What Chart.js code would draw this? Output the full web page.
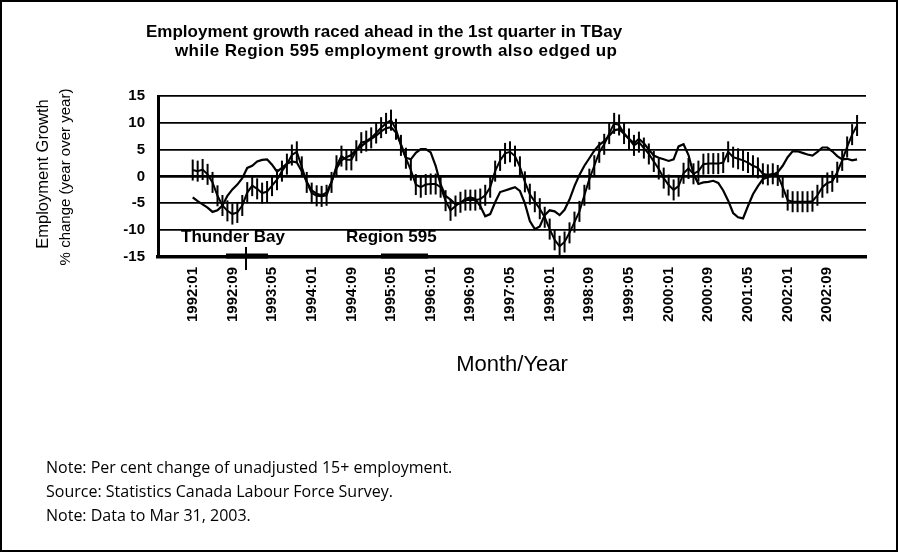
<!DOCTYPE html>
<html>
<head>
<meta charset="utf-8">
<title>Employment growth</title>
<script src="https://cdn.jsdelivr.net/npm/chart.js@4.4.1/dist/chart.umd.min.js"></script>
<style>
  html, body { margin: 0; padding: 0; background: #fff; }
  #painel { position: relative; width: 898px; height: 552px; overflow: hidden; font-family: "Liberation Sans", Arial, sans-serif; color: #000; }
  #moldura { position: absolute; left: 0; top: 0; width: 898px; height: 552px; box-sizing: border-box; border: 2px solid #000; pointer-events: none; }
  #grafico { position: absolute; left: 0; top: 0; }
  .titulo { position: absolute; font-weight: bold; font-size: 17px; line-height: 19px; white-space: nowrap; }
  .rotulo { position: absolute; white-space: nowrap; transform: translate(-50%, -50%) rotate(-90deg); }
  .nota { position: absolute; left: 46px; font-family: "Open Sans", sans-serif; font-size: 16px; line-height: 22px; white-space: nowrap; }
</style>
</head>
<body>
<div id="painel">
  <canvas id="grafico" width="898" height="552"></canvas>
  <div class="titulo" style="left:146px;top:22px">Employment growth raced ahead in the 1st quarter in TBay</div>
  <div class="titulo" style="left:175px;top:41px;letter-spacing:0.4px">while Region 595 employment growth also edged up</div>
  <div class="rotulo" style="left:42px;top:174px;font-size:16.5px">Employment Growth</div>
  <div class="rotulo" style="left:64px;top:177px;font-size:15px">% change (year over year)</div>
  <div class="rotulo" style="left:512px;top:364px;font-size:22px;transform:translate(-50%,-50%)">Month/Year</div>
  <div class="nota" style="top:456px">Note: Per cent change of unadjusted 15+ employment.</div>
  <div class="nota" style="top:480px">Source: Statistics Canada Labour Force Survey.</div>
  <div class="nota" style="top:504px">Note: Data to Mar 31, 2003.</div>
  <div id="moldura"></div>
</div>
<script>
// eixo x: meses a partir de 1992:01, um rótulo a cada 8 meses
const passoRotulo = 8;
const rotulosMeses = [
  "1992:01", "1992:09", "1993:05", "1994:01", "1994:09", "1995:05",
  "1996:01", "1996:09", "1997:05", "1998:01", "1998:09", "1999:05",
  "2000:01", "2000:09", "2001:05", "2002:01", "2002:09"
];

// variação % anual do emprego, 1992:01 a 2003:03
const thunderBay = [
  1.2, 1.0, 1.3, 0.4, -1.1, -3.6, -5.4, -6.4, -7.0, -6.7,
  -5.4, -3.0, -1.7, -2.3, -3.1, -2.8, -1.7, -0.6, 1.0, 2.3,
  4.0, 4.6, 1.8, -1.1, -3.1, -3.6, -3.7, -3.5, -1.1, 2.0,
  3.8, 3.1, 3.1, 4.8, 6.3, 6.6, 7.2, 8.1, 9.1, 9.9,
  10.5, 8.8, 5.8, 3.4, 1.2, -1.5, -2.0, -1.5, -1.4, -1.4,
  -2.0, -4.5, -6.3, -5.5, -4.8, -4.4, -4.4, -4.4, -4.2, -3.5,
  -2.0, 1.0, 3.0, 4.3, 4.6, 3.8, 1.8, -1.0, -3.3, -4.7,
  -6.0, -7.6, -9.8, -11.8, -13.0, -12.2, -10.5, -8.5, -6.5, -3.5,
  -0.5, 2.0, 4.5, 6.0, 8.0, 9.9, 9.6, 8.0, 7.0, 5.8,
  6.4, 5.3, 4.2, 2.8, 1.4, -0.3, -1.6, -2.5, -1.8, 0.6,
  1.5, 0.5, 1.0, 2.3, 2.4, 2.4, 2.4, 2.6, 4.6, 3.6,
  3.3, 3.0, 2.6, 2.0, 1.6, 0.5, 0.3, 0.5, 0.2, -2.0,
  -4.4, -4.7, -4.7, -4.7, -4.7, -4.6, -3.5, -2.0, -1.2, -0.9,
  0.8, 3.0, 5.5, 7.8, 9.5
];

const regiao595 = [
  -3.9, -4.6, -5.2, -5.8, -6.6, -6.3, -5.4, -3.6, -2.4, -1.5,
  -0.3, 1.6, 2.0, 2.8, 3.1, 3.2, 2.2, 0.9, 1.6, 2.4,
  2.8, 2.6, 1.0, -1.0, -2.6, -3.2, -3.5, -3.0, -1.0, 1.5,
  3.0, 3.6, 4.0, 5.0, 5.6, 6.4, 7.0, 7.6, 8.4, 9.0,
  9.2, 8.2, 6.0, 3.5, 3.2, 4.4, 5.1, 5.1, 4.5, 2.0,
  -1.5, -3.6, -4.3, -5.2, -5.0, -4.2, -3.9, -4.2, -5.5, -7.4,
  -7.0, -4.8, -2.9, -2.6, -2.3, -2.0, -2.7, -5.0, -8.3, -9.8,
  -9.3, -7.2, -6.3, -6.5, -7.2, -6.2, -4.3, -1.8, 0.3, 2.0,
  3.4, 4.8, 5.9, 6.6, 7.6, 8.6, 8.8, 8.0, 7.0, 6.2,
  7.0, 6.2, 5.0, 3.9, 3.5, 3.2, 2.9, 3.2, 5.6, 6.0,
  4.0, 0.5, -1.4, -1.1, -1.0, -0.8, -1.2, -2.6, -4.5, -6.8,
  -7.6, -7.8, -5.5, -3.3, -1.8, -0.5, -0.1, 0.3, 0.8, 2.0,
  3.6, 4.7, 4.7, 4.4, 4.1, 3.9, 4.6, 5.4, 5.4, 4.7,
  3.8, 3.2, 3.3, 3.0, 3.2
];

function comoPontos(valores) {
  return valores.map((v, i) => ({ x: i, y: v }));
}

// legenda desenhada dentro da área do gráfico, sobre o eixo x
const legendaInterna = {
  id: "legendaInterna",
  afterDraw(chart) {
    const c = chart.ctx;
    const [tb, reg] = chart.data.datasets;
    c.save();
    c.fillStyle = "#000";
    c.strokeStyle = "#000";
    c.font = 'bold 17px "Liberation Sans", Arial, sans-serif';
    c.textBaseline = "middle";
    c.fillText(tb.label, 181, 237);
    c.fillText(reg.label, 346, 237);
    c.lineWidth = 5;
    c.beginPath(); c.moveTo(226, 256); c.lineTo(268, 256); c.stroke();
    c.beginPath(); c.moveTo(381, 256); c.lineTo(428, 256); c.stroke();
    c.lineWidth = 2;
    c.beginPath(); c.moveTo(246, 247); c.lineTo(246, 270); c.stroke();
    c.restore();
  }
};

const fonteEixo = { family: '"Liberation Sans", Arial, sans-serif', size: 15, weight: "bold" };

new Chart(document.getElementById("grafico"), {
  type: "line",
  data: {
    datasets: [
      {
        label: "Thunder Bay",
        data: comoPontos(thunderBay),
        borderColor: "#000",
        borderWidth: 2,
        pointStyle: "line",
        rotation: 90,
        pointRadius: 10.5,
        pointBorderWidth: 2,
        pointBorderColor: "#000",
        tension: 0
      },
      {
        label: "Region 595",
        data: comoPontos(regiao595),
        borderColor: "#000",
        borderWidth: 2.2,
        pointRadius: 0,
        tension: 0
      }
    ]
  },
  options: {
    responsive: false,
    animation: false,
    devicePixelRatio: 1,
    events: [],
    layout: { padding: { left: 0, top: 96, right: 32, bottom: 0 } },
    plugins: {
      legend: { display: false },
      tooltip: { enabled: false }
    },
    scales: {
      x: {
        type: "linear",
        min: -7,
        max: 135.8,
        afterFit: scale => { scale.height = 295; },
        afterBuildTicks: scale => {
          scale.ticks = rotulosMeses.map((_, k) => ({ value: k * passoRotulo }));
        },
        grid: { display: false, drawTicks: false },
        border: { display: true, color: "#000", width: 3.5 },
        ticks: {
          autoSkip: false,
          minRotation: 90,
          maxRotation: 90,
          padding: 10,
          color: "#000",
          font: fonteEixo,
          callback: value => rotulosMeses[Math.round(value / passoRotulo)]
        }
      },
      y: {
        min: -15,
        max: 15,
        afterFit: scale => { scale.width = 158; },
        ticks: { stepSize: 5, padding: 13, color: "#000", font: fonteEixo },
        grid: {
          color: "#000",
          lineWidth: ctx => (ctx.tick.value === 0 ? 2.8 : 1.8),
          drawTicks: false
        },
        border: { display: true, color: "#000", width: 3 }
      }
    }
  },
  plugins: [legendaInterna]
});
</script>
</body>
</html>
